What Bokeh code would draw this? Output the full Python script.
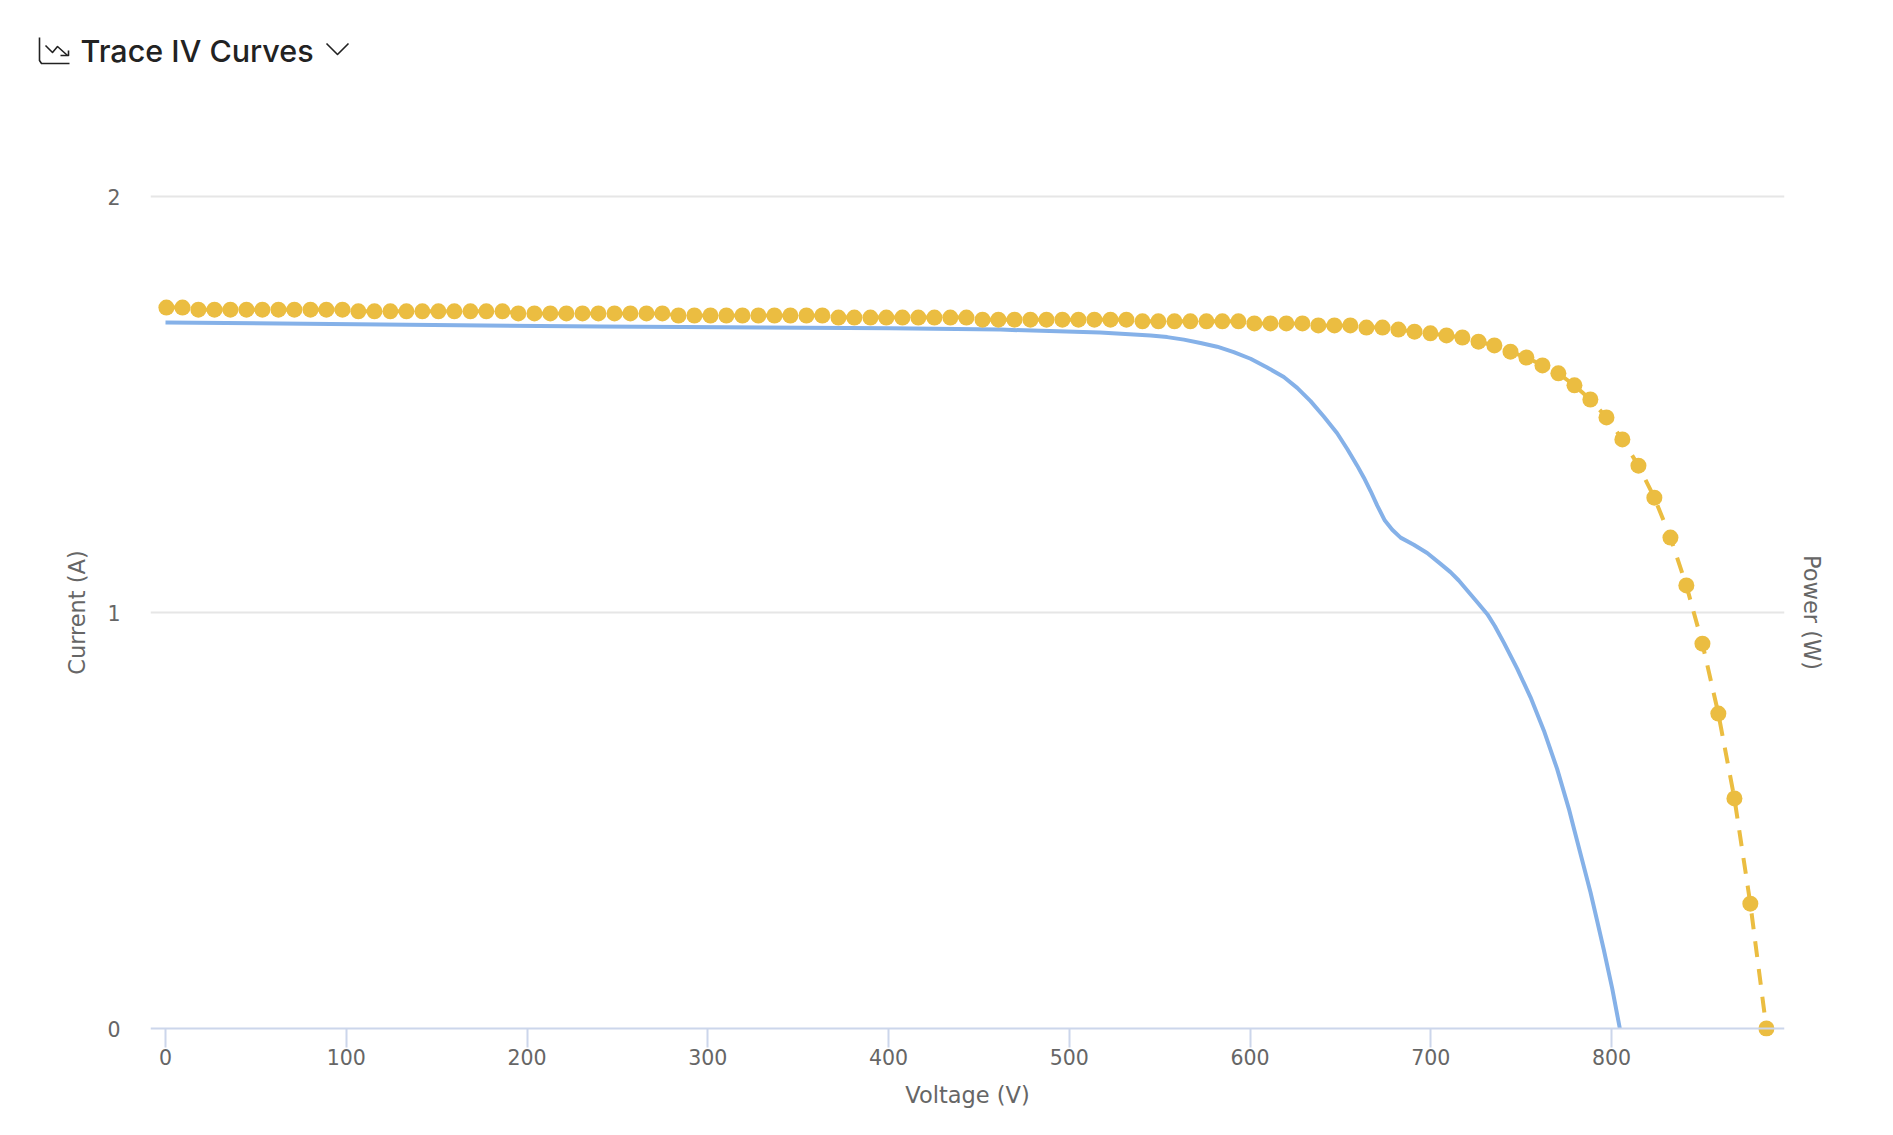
from bokeh.plotting import figure
from bokeh.layouts import column
from bokeh.models import Range1d, LinearAxis, FixedTicker, Span
from bokeh.core.properties import value
from bokeh.embed import file_html
from bokeh.resources import INLINE

TITLE = "Trace IV Curves"
X_LABEL = "Voltage (V)"
Y_LABEL = "Current (A)"
Y2_LABEL = "Power (W)"
X_TICKS = [0, 100, 200, 300, 400, 500, 600, 700, 800]
Y_TICKS = [0, 1, 2]

power_v = [0.5, 9.4, 18.2, 27.1, 35.9, 44.8, 53.6, 62.5, 71.3, 80.2,
           89.0, 97.9, 106.7, 115.6, 124.4, 133.3, 142.1, 151.0, 159.8, 168.7,
           177.5, 186.4, 195.2, 204.1, 212.9, 221.8, 230.7, 239.5, 248.4, 257.2,
           266.1, 274.9, 283.8, 292.6, 301.5, 310.3, 319.2, 328.0, 336.9, 345.7,
           354.6, 363.4, 372.3, 381.1, 390.0, 398.8, 407.7, 416.5, 425.4, 434.2,
           443.1, 452.0, 460.8, 469.7, 478.5, 487.4, 496.2, 505.1, 513.9, 522.8,
           531.6, 540.5, 549.3, 558.2, 567.0, 575.9, 584.7, 593.6, 602.4, 611.3,
           620.1, 629.0, 637.8, 646.7, 655.5, 664.4, 673.3, 682.1, 691.0, 699.8,
           708.7, 717.5, 726.4, 735.2, 744.1, 752.9, 761.8, 770.6, 779.5, 788.3,
           797.2, 806.0, 814.9, 823.7, 832.6, 841.4, 850.3, 859.1, 868.0, 876.8,
           885.7]
power_i = [1.733, 1.733, 1.728, 1.728, 1.728, 1.728, 1.728, 1.728, 1.728, 1.728,
           1.728, 1.728, 1.724, 1.724, 1.724, 1.724, 1.724, 1.724, 1.724, 1.724,
           1.724, 1.724, 1.719, 1.719, 1.719, 1.719, 1.719, 1.719, 1.719, 1.719,
           1.719, 1.719, 1.714, 1.714, 1.714, 1.714, 1.714, 1.714, 1.714, 1.714,
           1.714, 1.714, 1.709, 1.709, 1.709, 1.709, 1.709, 1.709, 1.709, 1.709,
           1.709, 1.704, 1.704, 1.704, 1.704, 1.704, 1.704, 1.704, 1.704, 1.704,
           1.704, 1.700, 1.700, 1.700, 1.700, 1.700, 1.700, 1.700, 1.695, 1.695,
           1.695, 1.695, 1.690, 1.690, 1.690, 1.685, 1.685, 1.680, 1.675, 1.671,
           1.666, 1.661, 1.651, 1.642, 1.627, 1.613, 1.594, 1.575, 1.546, 1.512,
           1.469, 1.416, 1.353, 1.276, 1.180, 1.065, 0.925, 0.757, 0.553, 0.300,
           0.0]

trace_v = [0, 240.7, 401, 462, 517, 545.0, 554.2, 563.4, 572.6, 581.8, 591.0, 600.3,
           609.5, 618.7, 626.1, 633.5, 640.8, 648.2, 653.8, 659.3, 663.0, 666.7, 670.4,
           674.6, 678.7, 683.3, 690.6, 698.0, 705.4, 710.9, 715.5, 720.2, 725.5, 731.3, 735.5,
           740.5, 747.8, 755.2, 762.6, 769.9, 776.4, 779.2, 783.8, 788.4, 792.1, 795.7,
           800.4, 804.6]
trace_i = [1.697, 1.6875, 1.683, 1.680, 1.673, 1.666, 1.662, 1.656, 1.648, 1.639, 1.626, 1.610,
           1.589, 1.566, 1.540, 1.508, 1.471, 1.431, 1.393, 1.353, 1.324, 1.292, 1.257,
           1.221, 1.199, 1.180, 1.163, 1.143, 1.117, 1.097, 1.077, 1.053, 1.026, 0.996, 0.967,
           0.927, 0.865, 0.796, 0.716, 0.624, 0.528, 0.481, 0.404, 0.327, 0.258, 0.190,
           0.096, 0.0]

GOLD = "#EBBD41"
BLUE = "#85B1E8"
AXIS = "#CCD6EB"
GRID = "#E6E6E6"
TEXT = "#666666"
DARK = "#222222"
FONT = "DejaVu Sans"

HEADER_H = 100

header = figure(width=1877, height=HEADER_H, output_backend="svg", toolbar_location=None,
                x_range=Range1d(0, 1877), y_range=Range1d(HEADER_H, 0), frame_align=False,
                min_border=0, x_axis_type=None, y_axis_type=None)
header.outline_line_color = None
header.grid.visible = False
header.text([80], [50], text=[TITLE], text_font=value("Inter Medium"), text_font_size="30.5px",
            text_color=DARK, text_baseline="alphabetic", text_align="left")
for xs, ys in [([39, 39, 41, 69], [37, 60, 63, 63]),
               ([45, 52, 57, 67], [45, 52, 46, 55]),
               ([60, 68, 68], [55, 55, 50]),
               ([326, 337, 348], [43, 54, 43])]:
    header.line(xs, ys, line_color=DARK, line_width=1.6, line_join="round")

p = figure(width=1877, height=1119 - HEADER_H, output_backend="svg", toolbar_location=None,
           x_range=Range1d(-8.3, 895.7), y_range=Range1d(-8 / 416, 2 + 8 / 416), frame_align=False,
           min_border_left=150, min_border_right=93, min_border_top=188 - HEADER_H,
           min_border_bottom=83, x_axis_label=X_LABEL, y_axis_label=Y_LABEL)
p.outline_line_color = None
p.background_fill_color = "white"
p.xgrid.visible = False
p.ygrid.grid_line_color = GRID
p.ygrid.grid_line_width = 2
p.ygrid.ticker = FixedTicker(ticks=Y_TICKS[1:])

xa = p.xaxis[0]
xa.ticker = FixedTicker(ticks=X_TICKS)
xa.axis_line_color = None
xa.major_tick_line_color = AXIS
xa.major_tick_line_width = 2
xa.major_tick_in = 8
xa.major_tick_out = 11
xa.minor_tick_line_color = None
xa.major_label_standoff = 1
xa.major_label_text_font = FONT
xa.major_label_text_font_size = "20.5px"
xa.major_label_text_color = TEXT
xa.axis_label_text_font = FONT
xa.axis_label_text_font_size = "22.5px"
xa.axis_label_text_font_style = "normal"
xa.axis_label_text_color = TEXT
xa.axis_label_standoff = 14
p.add_layout(Span(location=0, dimension="width", line_color=AXIS, line_width=2))

ya = p.yaxis[0]
ya.ticker = FixedTicker(ticks=Y_TICKS)
ya.axis_line_color = None
ya.major_tick_line_color = None
ya.minor_tick_line_color = None
ya.major_tick_in = 0
ya.major_tick_out = 0
ya.major_label_standoff = 30
ya.major_label_text_font = FONT
ya.major_label_text_font_size = "20.5px"
ya.major_label_text_color = TEXT
ya.axis_label_text_font = FONT
ya.axis_label_text_font_size = "22.5px"
ya.axis_label_text_font_style = "normal"
ya.axis_label_text_color = TEXT
ya.axis_label_standoff = 14

p.extra_y_ranges["power"] = Range1d(0, 1)
ra = LinearAxis(y_range_name="power", ticker=FixedTicker(ticks=[]), axis_label=Y2_LABEL,
                axis_line_color=None, major_tick_line_color=None, minor_tick_line_color=None,
                major_label_text_color=None, axis_label_text_font=FONT,
                axis_label_text_font_size="22.5px", axis_label_text_font_style="normal",
                axis_label_text_color=TEXT, axis_label_standoff=14)
p.add_layout(ra, "right")

p.line(trace_v, trace_i, line_color=BLUE, line_width=4, line_join="round")
p.line(power_v, power_i, line_color=GOLD, line_width=4, line_dash="16 12")
p.scatter(power_v, power_i, size=16, fill_color=GOLD, line_color=None)

page = column(header, p, spacing=0)
open("out.html", "w").write(file_html(page, INLINE))
